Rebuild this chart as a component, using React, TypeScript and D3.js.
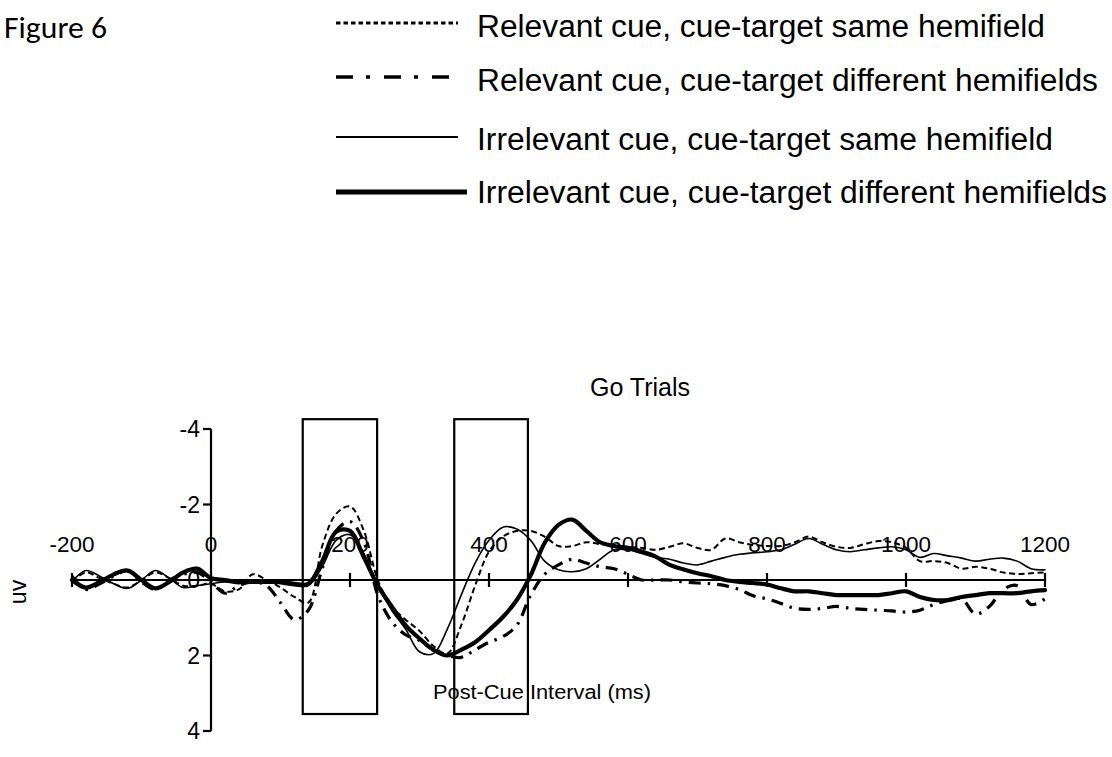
import React from 'react';
import * as d3 from 'd3';

const times = [-200, -180, -160, -140, -120, -100, -80, -60, -40, -20, 0, 20, 40, 60, 80, 100, 120, 140, 160, 180, 200, 220, 240, 260, 280, 300, 320, 340, 360, 380, 400, 420, 440, 460, 480, 500, 520, 540, 560, 580, 600, 620, 640, 660, 680, 700, 720, 740, 760, 780, 800, 820, 840, 860, 880, 900, 920, 940, 960, 980, 1000, 1020, 1040, 1060, 1080, 1100, 1120, 1140, 1160, 1180, 1200];

const relevantSame = [0.05, -0.2, -0.05, 0.1, 0.2, 0.0, -0.2, -0.05, 0.15, 0.15, 0.1, 0.3, 0.25, -0.15, 0.0, 0.2, 0.45, 0.6, -0.9, -1.75, -1.95, -1.3, 0.0, 0.7, 1.05, 1.35, 1.75, 1.95, 1.2, 0.15, -0.75, -1.15, -1.3, -1.3, -1.15, -0.9, -0.9, -1.0, -0.95, -0.9, -0.88, -0.85, -0.8, -0.88, -0.97, -0.85, -0.8, -1.1, -1.0, -0.93, -0.9, -0.9, -1.0, -1.15, -1.0, -0.88, -0.85, -0.95, -1.03, -1.0, -0.85, -0.5, -0.5, -0.45, -0.3, -0.35, -0.3, -0.2, -0.16, -0.18, -0.2];

const relevantDiff = [-0.1, 0.25, 0.1, -0.1, -0.25, 0.05, 0.25, 0.0, -0.15, -0.2, 0.05, 0.35, 0.15, 0.05, 0.15, 0.6, 1.05, 0.8, -0.3, -1.3, -1.55, -1.0, 0.4, 1.1, 1.45, 1.6, 1.85, 2.0, 2.05, 1.85, 1.65, 1.5, 1.2, 0.4, -0.15, -0.4, -0.55, -0.45, -0.35, -0.3, -0.15, 0.0, 0.0, 0.0, 0.05, 0.08, 0.1, 0.15, 0.25, 0.42, 0.5, 0.62, 0.75, 0.78, 0.75, 0.7, 0.75, 0.78, 0.8, 0.82, 0.85, 0.8, 0.65, 0.55, 0.5, 0.9, 0.7, 0.25, 0.15, 0.65, 0.5];

const irrelevantSame = [0.05, -0.25, -0.1, 0.1, 0.22, 0.0, -0.25, -0.05, 0.2, 0.15, 0.1, 0.05, 0.1, 0.05, 0.05, 0.1, 0.15, 0.15, -0.35, -1.05, -1.2, -0.7, 0.15, 0.8, 1.3, 1.9, 1.95, 1.3, 0.4, -0.45, -1.05, -1.4, -1.35, -1.05, -0.5, -0.27, -0.22, -0.3, -0.55, -0.8, -0.8, -0.7, -0.6, -0.55, -0.45, -0.4, -0.5, -0.6, -0.68, -0.72, -0.75, -0.8, -0.95, -1.1, -0.95, -0.8, -0.75, -0.8, -0.85, -0.88, -0.8, -0.6, -0.7, -0.64, -0.58, -0.5, -0.55, -0.58, -0.5, -0.3, -0.27];

const irrelevantDiff = [0.0, 0.2, 0.05, -0.15, -0.25, 0.0, 0.22, 0.05, -0.2, -0.3, -0.05, 0.0, 0.05, 0.05, 0.05, 0.05, 0.1, 0.1, -0.5, -1.28, -1.3, -0.6, 0.15, 0.7, 1.2, 1.55, 1.85, 2.0, 1.85, 1.65, 1.33, 0.98, 0.53, -0.13, -0.98, -1.46, -1.6, -1.3, -1.0, -0.9, -0.85, -0.75, -0.62, -0.4, -0.28, -0.18, -0.1, 0.0, 0.05, 0.08, 0.12, 0.22, 0.3, 0.3, 0.35, 0.4, 0.4, 0.4, 0.4, 0.35, 0.3, 0.45, 0.53, 0.53, 0.45, 0.4, 0.35, 0.35, 0.35, 0.3, 0.27];

const xTicks = [-200, 0, 200, 400, 600, 800, 1000, 1200];
const yTicks = [-4, -2, 0, 2, 4];
const windowStarts = [132, 350];
const windowEnds = [239, 456];
const windowTop = -4.26;
const windowBottom = 3.55;

const legendLabels = [
  'Relevant cue, cue-target same hemifield',
  'Relevant cue, cue-target different hemifields',
  'Irrelevant cue, cue-target same hemifield',
  'Irrelevant cue, cue-target different hemifields',
];

const seriesStyles = [
  { data: relevantSame, width: 2, dash: '6,3.5', legendWidth: 3, legendDash: '4.5,3', legendEnd: 458, textLen: 568 },
  { data: relevantDiff, width: 3.2, dash: '12,7,2.5,7', legendWidth: 3.4, legendDash: '17,13,4,14', legendEnd: 457, textLen: 621 },
  { data: irrelevantSame, width: 1.6, dash: null, legendWidth: 1.8, legendDash: null, legendEnd: 458, textLen: 576 },
  { data: irrelevantDiff, width: 4.2, dash: null, legendWidth: 5.2, legendDash: null, legendEnd: 467, textLen: 630 },
];

const FONT = "'Liberation Sans', Arial, Helvetica, sans-serif";

export default function App() {
  const x = d3.scaleLinear().domain([-200, 1200]).range([72, 1045]);
  const y = d3.scaleLinear().domain([-4, 4]).range([429, 731]);
  const y0 = y(0);
  const x0 = x(0);

  const line = d3
    .line<number>()
    .x((_, i) => x(times[i]))
    .y((d) => y(d))
    .curve(d3.curveCatmullRom.alpha(0.5));

  const legendY = [23, 77, 137, 192];
  const legendTextY = [37, 91, 150, 203];

  return (
    <svg
      width={1112}
      height={757}
      style={{ position: 'absolute', left: 0, top: 0, background: '#fff' }}
    >
      <rect x={0} y={0} width={1112} height={757} fill="#fff" />
      <text x={4} y={38} fontFamily="Carlito, Calibri, Lato, sans-serif" fontSize={30} textLength={103} lengthAdjust="spacingAndGlyphs">
        Figure 6
      </text>

      {seriesStyles.map((s, i) => (
        <g key={i}>
          <line
            x1={336}
            x2={s.legendEnd}
            y1={legendY[i]}
            y2={legendY[i]}
            stroke="#000"
            strokeWidth={s.legendWidth}
            strokeDasharray={s.legendDash || undefined}
          />
          <text x={477} y={legendTextY[i]} fontFamily={FONT} fontSize={31} fill="#000" textLength={s.textLen} lengthAdjust="spacingAndGlyphs">
            {legendLabels[i]}
          </text>
        </g>
      ))}

      <text x={640} y={396} fontFamily={FONT} fontSize={25} textAnchor="middle">
        Go Trials
      </text>

      {/* axis labels drawn under the curves */}
      {yTicks.map((t) => (
        <text key={'yl' + t} x={200} y={y(t) + 8} fontFamily={FONT} fontSize={23} textAnchor="end">
          {t}
        </text>
      ))}
      {xTicks.map((t) => (
        <text key={'xl' + t} x={x(t)} y={552} fontFamily={FONT} fontSize={22.5} textAnchor="middle">
          {t}
        </text>
      ))}

      <text
        transform={`translate(26, 592) rotate(-90)`}
        fontFamily={FONT}
        fontSize={23}
        textAnchor="middle"
      >
        uv
      </text>
      <text x={542} y={699} fontFamily={FONT} fontSize={20} textAnchor="middle" textLength={218} lengthAdjust="spacingAndGlyphs">
        Post-Cue Interval (ms)
      </text>

      {/* analysis windows */}
      {windowStarts.map((w, i) => (
        <rect
          key={'w' + i}
          x={x(w)}
          y={y(windowTop)}
          width={x(windowEnds[i]) - x(w)}
          height={y(windowBottom) - y(windowTop)}
          fill="none"
          stroke="#000"
          strokeWidth={2.2}
        />
      ))}

      {/* axes */}
      <line x1={x0} x2={x0} y1={y(-4)} y2={y(4)} stroke="#000" strokeWidth={2.2} />
      {yTicks.map((t) => (
        <line key={'yt' + t} x1={x0 - 8} x2={x0} y1={y(t)} y2={y(t)} stroke="#000" strokeWidth={2.2} />
      ))}
      <line x1={x(-200)} x2={x(1200)} y1={y0} y2={y0} stroke="#000" strokeWidth={2.2} />
      {xTicks.map((t) => (
        <line key={'xt' + t} x1={x(t)} x2={x(t)} y1={y0 - 7} y2={y0 + 7} stroke="#000" strokeWidth={2.2} />
      ))}

      {/* ERP curves */}
      {seriesStyles.map((s, i) => (
        <path
          key={'s' + i}
          d={line(s.data) || ''}
          fill="none"
          stroke="#000"
          strokeWidth={s.width}
          strokeDasharray={s.dash || undefined}
          strokeLinejoin="round"
          strokeLinecap={s.dash ? 'butt' : 'round'}
        />
      ))}
    </svg>
  );
}
